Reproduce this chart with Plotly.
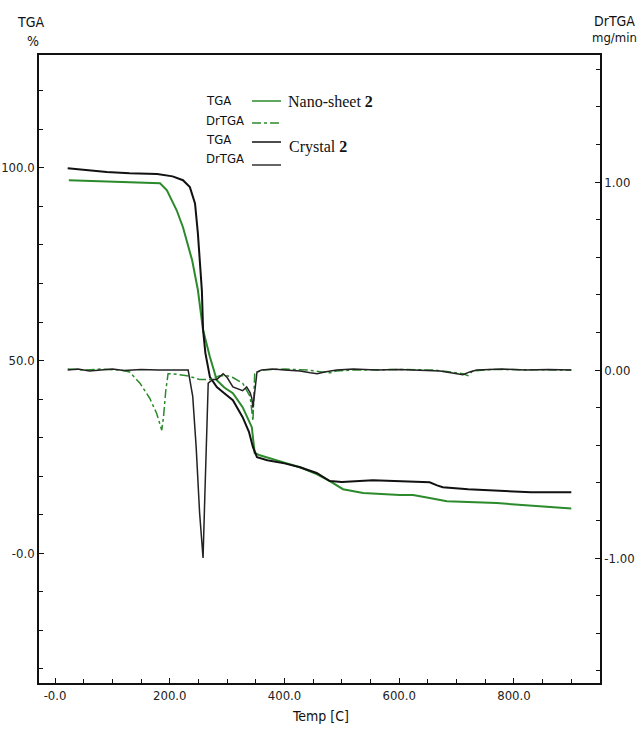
import numpy as np
import plotly.graph_objects as go

# ---------------- data ----------------
# Crystal 2 TGA (%)
crys_tga_T = [22, 60, 90, 130, 178, 205, 223, 235, 244, 249, 253, 256, 258, 262, 270, 282, 295,
              310, 327, 338, 345, 352, 370, 400, 427, 456, 479, 500, 554, 601, 653, 666, 676,
              720, 793, 830, 900]
crys_tga_v = [99.9, 99.3, 98.9, 98.6, 98.4, 97.8, 96.8, 95.0, 90.8, 83.0, 75.0, 68.0, 58.0, 52.0,
              45.7, 43.1, 41.5, 39.7, 35.3, 31.5, 27.5, 24.9, 24.1, 23.3, 22.3, 20.8, 18.7, 18.5,
              18.9, 18.6, 18.4, 17.6, 17.1, 16.6, 16.1, 15.8, 15.8]

# Nano-sheet 2 TGA (%)
nano_tga_T = [24, 100, 183, 195, 212, 223, 239, 249, 258, 270, 282, 295, 310, 327, 343, 348, 357,
              400, 427, 456, 479, 502, 537, 601, 624, 653, 683, 770, 830, 885, 900]
nano_tga_v = [96.8, 96.4, 96.0, 94.2, 89.0, 84.6, 76.0, 68.3, 57.9, 50.9, 44.9, 43.0, 41.5, 37.9,
              32.7, 26.0, 25.4, 23.5, 22.3, 20.5, 18.7, 16.6, 15.6, 15.1, 15.1, 14.3, 13.5, 13.0,
              12.4, 11.7, 11.6]

# Crystal 2 DrTGA (mg/min)
crys_dr_T = [22, 40, 60, 80, 100, 120, 150, 180, 210, 232, 240, 246, 252, 258, 261, 264, 267, 275,
             282, 293, 300, 310, 320, 327, 334, 340, 343, 345, 348, 352, 360, 380, 400, 427, 445,
             457, 470, 491, 520, 560, 600, 640, 671, 690, 711, 723, 735, 780, 820, 860, 900]
crys_dr_v = [0.0, 0.005, -0.005, 0.0, 0.005, -0.003, 0.003, 0.0, 0.002, 0.0, -0.14, -0.41, -0.76,
             -1.0, -0.68, -0.32, -0.07, -0.05, -0.05, -0.02, -0.04, -0.09, -0.1, -0.11, -0.09,
             -0.12, -0.15, -0.2, -0.12, -0.01, 0.0, 0.005, 0.0, -0.005, -0.015, -0.02, -0.01, 0.0,
             0.005, 0.0, 0.003, 0.0, -0.005, -0.015, -0.025, -0.01, 0.0, 0.005, 0.0, 0.003, 0.0]

# Nano-sheet 2 DrTGA (mg/min)
nano_dr_T = [22, 50, 80, 113, 130, 148, 165, 177, 186, 189, 193, 197, 205, 230, 252, 270, 287, 300,
             310, 327, 340, 345, 348, 360, 400, 440, 465, 480, 491, 520, 600, 660, 690, 711, 720,
             728, 760, 820, 900]
nano_dr_v = [0.005, 0.0, 0.005, 0.0, -0.01, -0.07, -0.15, -0.23, -0.32, -0.25, -0.11, -0.02, -0.02,
             -0.03, -0.05, -0.05, -0.03, -0.03, -0.04, -0.07, -0.14, -0.27, -0.02, 0.0, 0.005, 0.0,
             -0.01, -0.015, -0.005, 0.0, 0.003, 0.0, -0.01, -0.02, -0.03, -0.005, 0.003, 0.0, 0.0]

x_tickvals = [0, 200, 400, 600, 800]
x_ticktext = ["-0.0", "200.0", "400.0", "600.0", "800.0"]
y_tickvals = [0, 50, 100]
y_ticktext = ["-0.0", "50.0", "100.0"]
y2_tickvals = [-1, 0, 1]
y2_ticktext = ["-1.00", "0.00", "1.00"]

GREEN = "#2b8a2b"
BLACK = "#111111"
SANS = "DejaVu Sans Condensed, Liberation Sans Narrow, Liberation Sans, sans-serif"
TICKFONT = dict(family=SANS, size=13, color="#222")
SERIF = "Liberation Serif, Times New Roman, serif"

fig = go.Figure()
fig.add_trace(go.Scatter(x=nano_dr_T, y=nano_dr_v, yaxis="y2", mode="lines",
                         line=dict(color=GREEN, width=1.5, dash="dashdot"), name="DrTGA Nano-sheet 2"))
fig.add_trace(go.Scatter(x=crys_dr_T, y=crys_dr_v, yaxis="y2", mode="lines",
                         line=dict(color="#222222", width=1.5), name="DrTGA Crystal 2"))
fig.add_trace(go.Scatter(x=nano_tga_T, y=nano_tga_v, mode="lines",
                         line=dict(color=GREEN, width=2), name="TGA Nano-sheet 2"))
fig.add_trace(go.Scatter(x=crys_tga_T, y=crys_tga_v, mode="lines",
                         line=dict(color=BLACK, width=2), name="TGA Crystal 2"))

fig.update_layout(
    template="none",
    width=641, height=729,
    margin=dict(l=39, r=41, t=55, b=46, pad=0),
    paper_bgcolor="white", plot_bgcolor="white",
    showlegend=False,
    xaxis=dict(range=[-28, 950], showgrid=False, zeroline=False, showline=True, automargin=False,
               linecolor="#111", linewidth=1.5, mirror=True,
               tickmode="array", tickvals=x_tickvals, ticktext=x_ticktext,
               ticks="inside", ticklen=5, tickcolor="#111", tickfont=TICKFONT,
               minor=dict(tickmode="array", tickvals=list(np.arange(-0, 951, 50)),
                          ticks="inside", ticklen=4, tickcolor="#111")),
    yaxis=dict(range=[-33.7, 129.3], showgrid=False, zeroline=False, showline=True, automargin=False,
               linecolor="#111", linewidth=1.5,
               tickmode="array", tickvals=y_tickvals, ticktext=y_ticktext,
               ticks="inside", ticklen=5, tickcolor="#111", tickfont=TICKFONT,
               minor=dict(tickmode="array", tickvals=list(np.arange(-30, 130, 10)),
                          ticks="inside", ticklen=4, tickcolor="#111")),
    yaxis2=dict(range=[-1.665, 1.676], overlaying="y", side="right", showgrid=False, automargin=False,
                zeroline=False, showline=True, linecolor="#111", linewidth=1.5,
                tickmode="array", tickvals=y2_tickvals, ticktext=y2_ticktext,
                ticks="inside", ticklen=5, tickcolor="#111", tickfont=TICKFONT,
                minor=dict(tickmode="array", tickvals=[round(v, 1) for v in np.arange(-1.6, 1.61, 0.2)],
                           ticks="inside", ticklen=4, tickcolor="#111")),
)

def px(x, y):
    return (x - 39) / 561, (683 - y) / 628

anns = []
def ann(text, x, y, size=13, family=SANS, xanchor="center"):
    ax, ay = px(x, y)
    anns.append(dict(text=text, x=ax, y=ay, xref="paper", yref="paper", showarrow=False,
                     xanchor=xanchor, yanchor="middle",
                     font=dict(family=family, size=size, color="#111")))

ann("TGA", 30, 22, 14)
ann("%", 33, 41, 14)
ann("DrTGA", 614, 21, 14)
ann("mg/min", 639, 38, 13, xanchor="right")
ann("Temp [C]", 320, 716, 14)

ann("TGA", 204, 100, 13, xanchor="left")
ann("DrTGA", 204, 121, 13, xanchor="left")
ann("TGA", 204, 139, 13, xanchor="left")
ann("DrTGA", 204, 159, 13, xanchor="left")
ann("Nano-sheet <b>2</b>", 286, 101, 16, family=SERIF, xanchor="left")
ann("Crystal <b>2</b>", 287, 147, 16, family=SERIF, xanchor="left")

shapes = []
def seg(y, color, dash="solid"):
    x0, yy = px(252, y)
    x1, _ = px(281, y)
    shapes.append(dict(type="line", xref="paper", yref="paper", x0=x0, x1=x1, y0=yy, y1=yy,
                       line=dict(color=color, width=1.5, dash=dash)))

seg(101, GREEN)
seg(123, GREEN, "dashdot")
seg(142, BLACK)
seg(165, "#333333")

fig.update_layout(annotations=anns, shapes=shapes)
fig.write_html("out.html")
